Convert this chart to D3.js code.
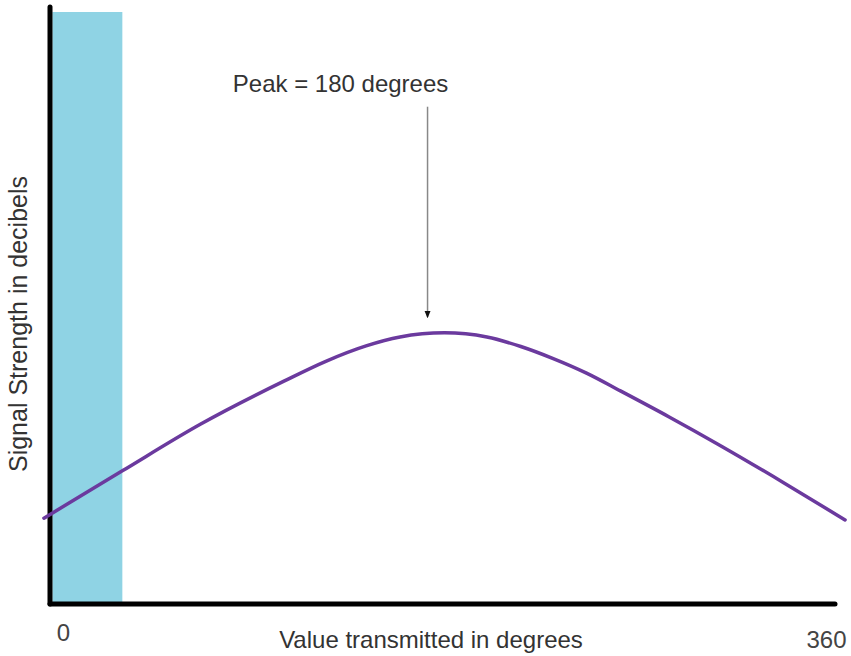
<!DOCTYPE html>
<html>
<head>
<meta charset="utf-8">
<script src="https://cdn.jsdelivr.net/npm/d3@7"></script>
<style>
  body { margin: 0; background: #fff; }
  svg { display: block; font-family: "Liberation Sans", Arial, sans-serif; }
</style>
</head>
<body>
<svg id="chart" width="851" height="656"></svg>
<script>
// curve (degrees vs relative signal strength)
const degrees = [-9, 28, 65, 104, 124, 143, 159, 180, 200, 216, 231, 247, 263, 286, 309, 340, 369];
const signal = [14.5, 22.5, 30.4, 37.6, 41.0, 43.6, 45.1, 45.8, 45.1, 43.5, 41.5, 39.0, 36.0, 31.6, 27.0, 20.5, 14.2];
const band = [-5, 28];          // shaded region, degrees
const tickValues = [0, 360];
const peakLabel = "Peak = 180 degrees";
const arrowX = 172;             // where the arrow is drawn
const arrowY = [84, 48.5];      // arrow from / to (signal units)

const svg = d3.select("#chart");

const x = d3.scaleLinear().domain([0, 360]).range([63, 826]);
const y = d3.scaleLinear().domain([0, 100]).range([604, 12]);

// shaded band
svg.append("rect")
    .attr("x", x(band[0]))
    .attr("y", y(100))
    .attr("width", x(band[1]) - x(band[0]))
    .attr("height", y(0) - y(100))
    .attr("fill", "#8fd3e4");

// axes (plain thick lines, no ticks)
svg.append("line")
    .attr("x1", 50).attr("x2", 50)
    .attr("y1", 7).attr("y2", y(0))
    .attr("stroke", "#000").attr("stroke-width", 5).attr("stroke-linecap", "round");
svg.append("line")
    .attr("x1", 50).attr("x2", 835)
    .attr("y1", y(0)).attr("y2", y(0))
    .attr("stroke", "#000").attr("stroke-width", 5).attr("stroke-linecap", "round");

// tick labels only
const xAxis = svg.append("g")
    .attr("transform", `translate(0,${y(0)})`)
    .call(d3.axisBottom(x).tickValues(tickValues).tickSize(0).tickPadding(0));
xAxis.select(".domain").remove();
xAxis.selectAll("text")
    .attr("font-family", "Liberation Sans, Arial, sans-serif")
    .attr("font-size", 24)
    .attr("fill", "#444")
    .attr("dy", null)
    .attr("y", d => d === 0 ? 37 : 44);

// curve
const pts = degrees.map((d, i) => [d, signal[i]]);
svg.append("path")
    .datum(pts)
    .attr("fill", "none")
    .attr("stroke", "#6b3a9e")
    .attr("stroke-width", 3.5)
    .attr("stroke-linecap", "round")
    .attr("d", d3.line().x(d => x(d[0])).y(d => y(d[1])).curve(d3.curveMonotoneX));

// annotation arrow
svg.append("defs").append("marker")
    .attr("id", "head")
    .attr("viewBox", "0 0 10 10")
    .attr("refX", 8).attr("refY", 5)
    .attr("markerWidth", 5).attr("markerHeight", 5)
    .attr("orient", "auto")
    .append("path").attr("d", "M0,1 L10,5 L0,9 z").attr("fill", "#111");

svg.append("line")
    .attr("x1", x(arrowX)).attr("x2", x(arrowX))
    .attr("y1", y(arrowY[0])).attr("y2", y(arrowY[1]))
    .attr("stroke", "#888").attr("stroke-width", 1.5)
    .attr("marker-end", "url(#head)");

svg.append("text")
    .attr("x", x(arrowX) - 87)
    .attr("y", 92)
    .attr("text-anchor", "middle")
    .attr("font-size", 24)
    .attr("fill", "#333")
    .text(peakLabel);

// axis titles
svg.append("text")
    .attr("x", 431).attr("y", 648)
    .attr("text-anchor", "middle")
    .attr("font-size", 24)
    .attr("fill", "#333")
    .text("Value transmitted in degrees");

svg.append("text")
    .attr("transform", "translate(27,324) rotate(-90)")
    .attr("text-anchor", "middle")
    .attr("font-size", 25)
    .attr("fill", "#333")
    .text("Signal Strength in decibels");
</script>
</body>
</html>
